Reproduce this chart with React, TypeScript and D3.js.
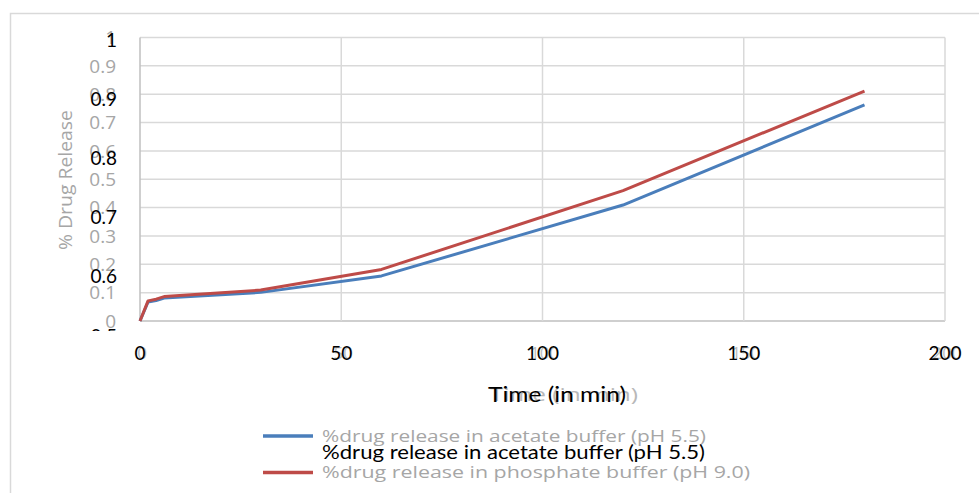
import * as React from 'react';
import * as d3 from "d3";

interface Point {
    x: number;
    y: number;
}

// time points (min)
const times = [0, 2, 4, 6, 30, 60, 120, 180];
const acetate = [0, 0.067, 0.072, 0.081, 0.101, 0.159, 0.409, 0.762];
const phosphate = [0, 0.071, 0.077, 0.086, 0.109, 0.182, 0.46, 0.811];

const xTicks = [0, 50, 100, 150, 200];
const yTicks = [0, 0.1, 0.2, 0.3, 0.4, 0.5, 0.6, 0.7, 0.8, 0.9, 1];
const yTickLabels = ["0", "0.1", "0.2", "0.3", "0.4", "0.5", "0.6", "0.7", "0.8", "0.9", "1"];
// stray second set of axis labels drawn on top in the original
const ghostTicks = [0.5, 0.6, 0.7, 0.8, 0.9, 1];
const ghostLabels = ["0.5", "0.6", "0.7", "0.8", "0.9", "1"];

const seriesNames = [
    "%drug release in acetate buffer (pH 5.5)",
    "%drug release in phosphate buffer (pH 9.0)"
];
const seriesColors = ["#4a7ebb", "#be4b48"];

const W = 979;
const H = 493;
const grayFont = "'Open Sans', 'DejaVu Sans', sans-serif";
const blackFont = "Lato, 'Liberation Sans', sans-serif";

export default function App() {
    const x = d3.scaleLinear().domain([0, 200]).range([140, 945]);
    const y = d3.scaleLinear().domain([0, 1]).range([321, 37.5]);
    const yGhost = d3.scaleLinear().domain([0.5, 1]).range([336, 40]);

    const line = d3.line<Point>()
        .curve(d3.curveLinear)
        .x(p => x(p.x))
        .y(p => y(p.y));

    const series = [acetate, phosphate].map(vals => times.map((t, i) => ({ x: t, y: vals[i] })));

    return (
        <svg width={W} height={H} style={{ position: "absolute", left: 0, top: 0, background: "#fff" }}>
            <defs>
                <clipPath id="ghostClip">
                    <rect x={0} y={0} width={W} height={331} />
                </clipPath>
            </defs>
            {/* outer chart frame */}
            <rect x={10.5} y={13.5} width={W + 20} height={H + 20} fill="none" stroke="#d9d9d9" strokeWidth={1.5} />

            {/* grid */}
            {yTicks.map((t, i) => (
                <line key={"gy" + i} x1={x(0)} x2={x(200)} y1={y(t)} y2={y(t)}
                    stroke={i === 0 ? "#bfbfbf" : "#d9d9d9"} strokeWidth={1.5} />
            ))}
            {xTicks.map((t, i) => (
                <line key={"gx" + i} x1={x(t)} x2={x(t)} y1={y(0)} y2={y(1)}
                    stroke={i === 0 ? "#bfbfbf" : "#d9d9d9"} strokeWidth={1.5} />
            ))}

            {/* series */}
            {series.map((s, i) => (
                <path key={"s" + i} d={line(s) || undefined} fill="none"
                    stroke={seriesColors[i]} strokeWidth={3} strokeLinejoin="round" />
            ))}

            {/* gray y tick labels */}
            {yTicks.map((t, i) => (
                <text key={"yl" + i} x={116} y={y(t)} dy="0.35em" textAnchor="end"
                    fontFamily={grayFont} fontSize={19} fill="#a6a6a6">{yTickLabels[i]}</text>
            ))}
            {/* black overlay y labels */}
            <g clipPath="url(#ghostClip)">
                {ghostTicks.map((t, i) => (
                    <text key={"gl" + i} x={117} y={yGhost(t)} dy="0.35em" textAnchor="end"
                        fontFamily={blackFont} fontSize={19} fill="#000">{ghostLabels[i]}</text>
                ))}
            </g>

            {/* x tick labels: gray shadow then black */}
            {xTicks.map((t, i) => (
                <g key={"xl" + i}>
                    <text x={x(t) + 2} y={353} dy="0.35em" textAnchor="middle"
                        fontFamily={grayFont} fontSize={17} fill="#bdbdbd">{t}</text>
                    <text x={x(t)} y={353} dy="0.35em" textAnchor="middle"
                        fontFamily={blackFont} fontSize={19} fill="#000">{t}</text>
                </g>
            ))}

            {/* axis titles */}
            <text x={490} y={395} dy="0.35em" textLength={148} lengthAdjust="spacingAndGlyphs"
                fontFamily={grayFont} fontSize={18} fill="#b8b8b8">Time (in min)</text>
            <text x={488} y={395} dy="0.35em" textLength={138} lengthAdjust="spacingAndGlyphs"
                fontFamily={blackFont} fontSize={21} fill="#000">Time (in min)</text>
            <text transform={`translate(65,180) rotate(-90)`} dy="0.35em" textAnchor="middle"
                textLength={140} lengthAdjust="spacingAndGlyphs"
                fontFamily={grayFont} fontSize={19} fill="#a6a6a6">% Drug Release</text>

            {/* legend */}
            {seriesNames.map((n, i) => {
                const ly = i === 0 ? 436 : 472.5;
                return (
                    <g key={"lg" + i}>
                        <line x1={263} x2={313} y1={ly} y2={ly} stroke={seriesColors[i]} strokeWidth={3.5} />
                        <text x={322} y={ly} dy="0.35em" textLength={i === 0 ? 384 : 428} lengthAdjust="spacingAndGlyphs"
                            fontFamily={grayFont} fontSize={17} fill="#a6a6a6">{n}</text>
                    </g>
                );
            })}
            <text x={322} y={452} dy="0.35em" textLength={383} lengthAdjust="spacingAndGlyphs"
                fontFamily={blackFont} fontSize={20} fill="#000">{seriesNames[0]}</text>
        </svg>
    );
}
